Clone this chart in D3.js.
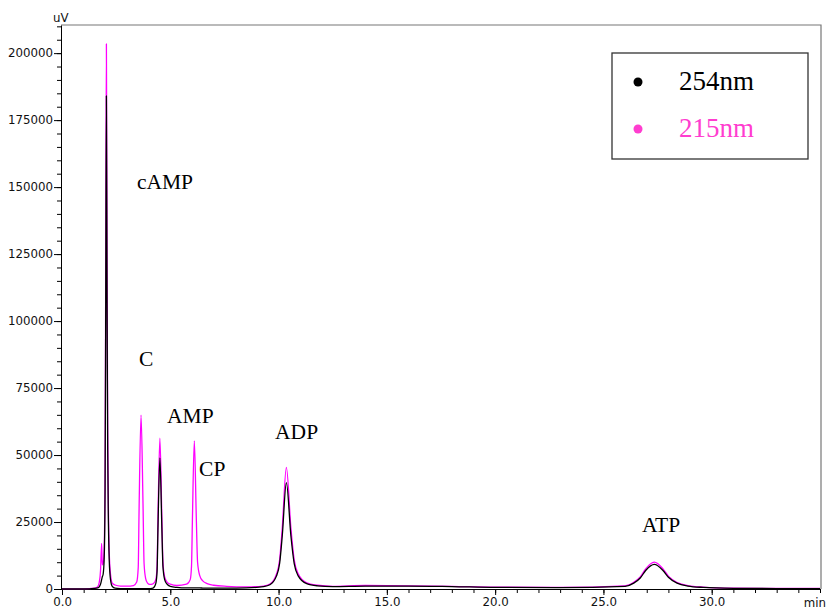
<!DOCTYPE html>
<html>
<head>
<meta charset="utf-8">
<script src="https://cdn.jsdelivr.net/npm/d3@7"></script>
<style>
  body { margin: 0; background: #fff; }
  svg { display: block; }
  .tick text, .axis-title { font-family: "DejaVu Sans", sans-serif; font-size: 11.8px; fill: #111; }
  .peak-label { font-family: "Liberation Serif", "Times New Roman", serif; font-size: 21.5px; fill: #000; }
  .legend-label { font-family: "Liberation Serif", "Times New Roman", serif; font-size: 27px; }
</style>
</head>
<body>
<svg id="chart" width="826" height="612"></svg>
<script>
// retention time (min)
const times = [
  0, 1.0, 1.5, 1.65, 1.72, 1.78, 1.83, 1.86, 1.9, 1.95,
  1.99, 2.02, 2.05, 2.08, 2.11, 2.14, 2.18, 2.24, 2.32, 2.45,
  2.7, 3.0, 3.3, 3.45, 3.52, 3.56, 3.65, 3.74, 3.79, 3.86,
  3.95, 4.05, 4.2, 4.33, 4.39, 4.43, 4.52, 4.61, 4.66, 4.74,
  4.85, 5.0, 5.3, 5.75, 5.92, 5.98, 6.02, 6.11, 6.2, 6.26,
  6.36, 6.5, 6.7, 7.0, 7.6, 8.5, 9.3, 9.6, 9.9, 10.05,
  10.17, 10.36, 10.57, 10.72, 10.9, 11.3, 11.8, 12.5, 14.0, 16.0,
  18.0, 20.0, 23.0, 26.0, 26.4, 26.7, 26.95, 27.35, 27.75, 28.0,
  28.4, 28.9, 29.6, 31.0, 33.0, 35.0
];

// 215nm trace (uV)
const signal215 = [
  0, 0, 300, 900, 2500, 7000, 17000, 9000, 9500, 16000,
  45000, 122000, 203400, 122000, 60000, 32000, 14000, 5500, 2200, 1500,
  1100, 1100, 1300, 2600, 8000, 30000, 64900, 32000, 9500, 4000,
  2200, 1700, 1900, 3500, 8500, 26000, 56300, 27000, 10000, 4500,
  2600, 1800, 1300, 1800, 3500, 8500, 25000, 55300, 27000, 10000,
  5000, 3000, 2000, 1400, 1000, 800, 1100, 1800, 5500, 11000,
  22700, 45400, 22700, 11000, 5800, 2300, 1400, 1000, 1300, 1200,
  1000, 700, 600, 1200, 2500, 4500, 7500, 10000, 7500, 4800,
  2400, 1300, 700, 300, 200, 200
];

// 254nm trace (uV)
const signal254 = [
  0, 0, 200, 400, 800, 1800, 3500, 4500, 5500, 12000,
  38000, 108000, 184000, 108000, 52000, 27000, 11000, 3500, 1000, 300,
  150, 100, 100, 100, 100, 100, 100, 100, 100, 100,
  100, 150, 300, 2000, 6500, 22000, 48900, 23000, 8500, 3500,
  1800, 1000, 600, 400, 400, 400, 400, 400, 400, 400,
  400, 350, 300, 300, 300, 400, 900, 1600, 4800, 9600,
  19800, 39700, 19800, 9600, 5000, 2000, 1200, 900, 1100, 1100,
  900, 600, 500, 1000, 2200, 4100, 6900, 9200, 6900, 4400,
  2200, 1100, 600, 250, 150, 150
];

const seriesNames = ['254nm', '215nm'];
const xTicks = [0, 5, 10, 15, 20, 25, 30];
const yTicks = [0, 25000, 50000, 75000, 100000, 125000, 150000, 175000, 200000];

// peak annotations, anchored in data units (time, uV)
const peakLabels = ['cAMP', 'C', 'AMP', 'CP', 'ADP', 'ATP'];
const labelTimes = [3.46, 3.56, 4.85, 6.33, 9.84, 26.78];
const labelValues = [149250, 83200, 61900, 42200, 56000, 21300];

const width = 826;
const height = 612;
const margin = { top: 25, right: 5, bottom: 23, left: 61 };

const svg = d3.select('#chart');

const x = d3.scaleLinear()
  .domain([0, 35])
  .range([62, 820]);

const y = d3.scaleLinear()
  .domain([0, 210500])
  .range([height - margin.bottom, margin.top]);

// frame (top and right)
svg.append('path')
  .attr('d', `M${margin.left},${margin.top}H821V${height - margin.bottom}`)
  .attr('fill', 'none')
  .attr('stroke', '#777')
  .attr('stroke-width', 1.2);

// minor ticks
svg.append('g')
  .attr('transform', `translate(0,${height - margin.bottom})`)
  .call(d3.axisBottom(x).tickValues(d3.range(0, 36, 1)).tickSize(4).tickSizeOuter(0).tickFormat(''))
  .call(g => g.select('.domain').remove());

svg.append('g')
  .attr('transform', `translate(${margin.left},0)`)
  .call(d3.axisLeft(y).tickValues(d3.range(0, 210001, 5000)).tickSize(4).tickSizeOuter(0).tickFormat(''))
  .call(g => g.select('.domain').remove());

// major axes
const xAxis = svg.append('g')
  .attr('transform', `translate(0,${height - margin.bottom})`)
  .call(d3.axisBottom(x).tickValues(xTicks).tickSize(6).tickSizeOuter(0).tickPadding(3).tickFormat(d3.format('.1f')));

xAxis.select('.domain').attr('d', `M${margin.left},0.5H821`);

const yAxis = svg.append('g')
  .attr('transform', `translate(${margin.left},0)`)
  .call(d3.axisLeft(y).tickValues(yTicks).tickSize(7).tickSizeOuter(0).tickPadding(1).tickFormat(d3.format('d')));

[xAxis, yAxis].forEach(g => {
  g.attr('font-family', null).attr('font-size', null);
  g.selectAll('line, path').attr('stroke', '#000');
});

svg.append('text')
  .attr('class', 'axis-title')
  .attr('x', 53)
  .attr('y', 22)
  .text('uV');

svg.append('text')
  .attr('class', 'axis-title')
  .attr('x', 826)
  .attr('y', 607)
  .attr('text-anchor', 'end')
  .text('min');

// traces
const line = d3.line()
  .x(d => x(d[0]))
  .y(d => y(d[1]))
  .curve(d3.curveMonotoneX);

svg.append('path')
  .datum(times.map((t, i) => [t, signal215[i]]))
  .attr('fill', 'none')
  .attr('stroke', '#ff00ff')
  .attr('stroke-width', 1.3)
  .attr('d', line);

svg.append('path')
  .datum(times.map((t, i) => [t, signal254[i]]))
  .attr('fill', 'none')
  .attr('stroke', '#000')
  .attr('stroke-width', 1.3)
  .attr('d', line);

// peak labels
svg.append('g')
  .selectAll('text')
  .data(peakLabels)
  .join('text')
  .attr('class', 'peak-label')
  .attr('x', (d, i) => x(labelTimes[i]))
  .attr('y', (d, i) => y(labelValues[i]))
  .text(d => d);

// legend
const legendColors = ['#000', '#ff3dcf'];
const legend = svg.append('g');

legend.append('rect')
  .attr('x', 612)
  .attr('y', 53)
  .attr('width', 196)
  .attr('height', 106)
  .attr('fill', '#fff')
  .attr('stroke', '#333')
  .attr('stroke-width', 1.3);

seriesNames.forEach((name, i) => {
  legend.append('circle')
    .attr('cx', 638)
    .attr('cy', 82 + i * 47)
    .attr('r', 4.5)
    .attr('fill', legendColors[i]);

  legend.append('text')
    .attr('class', 'legend-label')
    .attr('x', 679)
    .attr('y', 90 + i * 47)
    .attr('fill', legendColors[i])
    .text(name);
});
</script>
</body>
</html>
